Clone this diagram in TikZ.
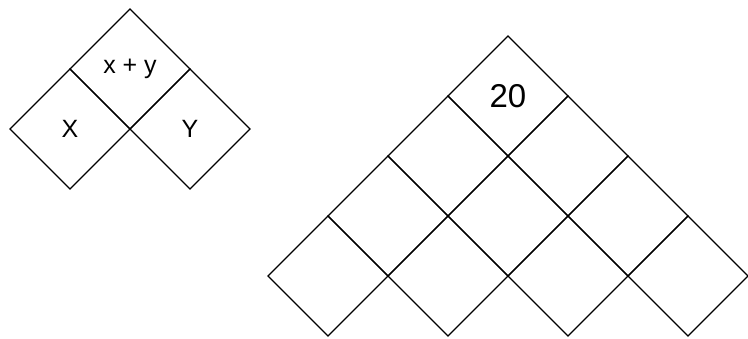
\documentclass[tikz,border=0pt]{standalone}
\usepackage{fontspec}
\setmainfont{Liberation Sans}
\usepackage{tikz}
\usetikzlibrary{positioning,shapes.geometric}

\begin{document}
\begin{tikzpicture}[
  x=1pt,y=1pt,
  node distance=0pt and 0pt,
  cell/.style={diamond,draw,line width=1.3pt,minimum width=120pt,minimum height=120pt,inner sep=0pt,outer sep=0pt,font=\fontsize{25}{28}\selectfont},
  big/.style={font=\fontsize{33}{38}\selectfont}
]
\useasboundingbox (0,0) rectangle (748,339);
% small rule: top cell is the sum of the two below
\node[cell] (sum) at (130,270) {x + y};
\node[cell,below left=of sum] (xcell) {X};
\node[cell,below right=of sum] (ycell) {Y};

% pyramid, four rows
\node[cell,big] (p1) at (508,243) {20};
\node[cell,below left=of p1] (p21) {};
\node[cell,below right=of p1] (p22) {};
\node[cell,below left=of p21] (p31) {};
\node[cell,below right=of p21] (p32) {};
\node[cell,below right=of p22] (p33) {};
\node[cell,below left=of p31] (p41) {};
\node[cell,below right=of p31] (p42) {};
\node[cell,below right=of p32] (p43) {};
\node[cell,below right=of p33] (p44) {};
\end{tikzpicture}
\end{document}
